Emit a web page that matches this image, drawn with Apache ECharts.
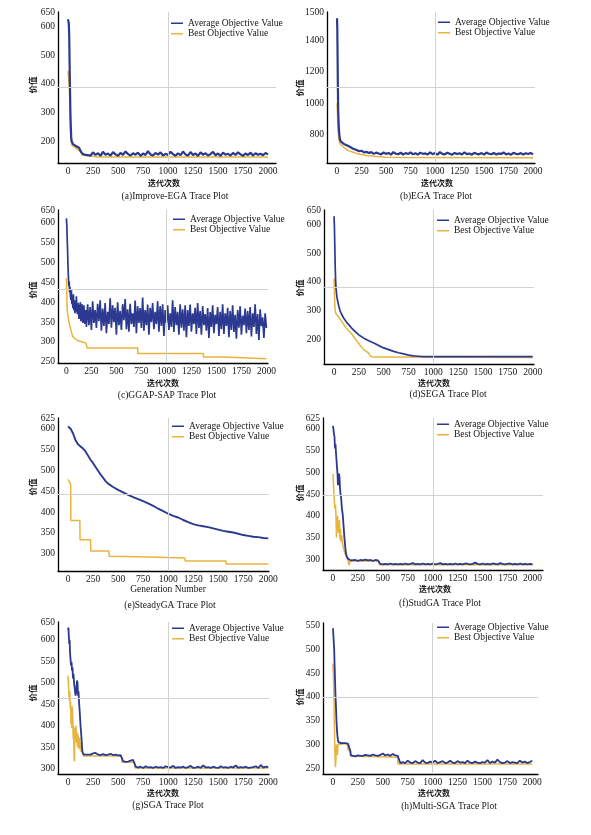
<!DOCTYPE html>
<html>
<head>
<meta charset="utf-8">
<script src="https://cdn.jsdelivr.net/npm/echarts@6/dist/echarts.min.js"></script>
<style>
html,body{margin:0;padding:0;background:#fff;}
#chart{width:591px;height:835px;}
</style>
</head>
<body>
<div id="chart"></div>
<script>
// ---------------- DATA ----------------
const AVG_NAME = 'Average Objective Value';
const BEST_NAME = 'Best Objective Value';
const xTicks = [0, 250, 500, 750, 1000, 1250, 1500, 1750, 2000];
const TAIL_START = 200;   // noisy part starts at generation 200
const TAIL_STEP = 25;     // sampled every 25 generations
const C_TAIL_STEP = 12.5; // panel (c) sampled every 12.5 generations

// (a) Improve-EGA
const aAvgHead = [[0,625],[4,622],[8,610],[12,570],[16,470],[20,380],[24,300],[28,250],[32,215],[36,200],[40,195],[50,190],[60,186],[70,192],[80,183],[90,188],[100,181],[110,177],[120,170],[130,163],[140,158],[150,155],[165,160],[180,152]];
const aAvgTail = [157,150,161,152,158,149,163,153,157,150, 162,154,149,159,152,164,155,150,158,153, 160,149,157,152,165,154,150,159,153,161, 150,156,152,163,155,149,158,151,164,154, 150,162,152,157,149,161,153,158,150,155, 163,151,157,149,160,153,156,150,159,152, 161,154,149,157,152,160,150,158,153,156, 151,159,154];
const aBest = [[0,445],[10,440],[15,380],[20,300],[25,240],[30,205],[40,185],[60,180],[80,176],[100,172],[120,165],[140,152],[160,146],[300,145],[2000,145]];
const aYTicks = [200,300,400,500,600,650];
const aYLabels = ['200','300','400','500','600','650'];

// (b) EGA
const bAvgHead = [[0,1540],[3,1480],[6,1300],[9,1100],[12,960],[16,880],[20,830],[25,795],[30,770],[40,757],[50,750],[60,746],[70,742],[80,744],[90,737],[100,734],[110,730],[120,727],[130,724],[140,720],[150,716],[165,712],[180,706]];
const bAvgTail = [703,696,699,688,692,684,690,679,687,681, 676,688,679,685,674,690,680,677,686,675, 684,678,689,676,683,674,687,679,682,675, 688,677,684,674,690,679,676,686,680,674, 685,678,683,675,689,677,681,674,686,679, 676,684,674,687,680,677,685,675,682,678, 688,676,681,674,686,679,677,684,675,683, 678,685,676];
const bBest = [[0,1000],[4,950],[8,870],[12,820],[16,790],[20,770],[25,755],[35,740],[50,730],[75,718],[100,705],[150,692],[200,682],[250,675],[300,668],[400,662],[500,658],[700,656],[2000,655]];
const bYTicks = [800,1000,1200,1400,1580];
const bYLabels = ['800','1000','1200','1400','1500'];

// (c) GGAP-SAP
const cAvgHead = [[0,611],[4,595],[8,560],[12,530],[16,490],[20,465],[24,440],[28,452],[32,425],[36,438],[40,418],[45,405],[50,430],[55,395],[60,412],[65,385],[70,420],[75,380],[80,405],[85,372],[90,398],[95,376],[100,415],[105,382],[110,370],[115,398],[120,392],[125,358],[130,365],[135,388],[140,400],[145,352],[150,360],[155,395],[160,383],[165,348],[170,355],[175,392],[180,388],[185,345],[190,350],[195,380]];
const cAvgTail = [338,395,342,388,330,402,348,380,335,396, 352,405,328,384,340,398,322,376,345,410, 336,392,350,386,318,400,342,378,330,395, 355,408,332,382,326,396,345,372,338,404, 322,390,348,385,335,412,328,380,342,394, 318,386,350,398,332,376,345,402,326,390, 340,395,315,380,348,392,330,372,338,405, 325,388,342,376,318,395,336,382,328,392, 312,380,340,394,326,372,345,386,320,398, 335,378,318,390,342,370,328,385,310,375, 338,392,322,368,345,388,315,376,332,395, 320,372,340,386,312,378,330,392,325,368, 308,380,336,390,318,366,342,384,322,378, 330,388,314,372,338,395,320,370,305,382, 340,362,310,372,335];
const cBest = [[0,460],[3,430],[6,393],[10,375],[20,360],[30,345],[40,335],[50,325],[63,314],[80,309],[96,306],[120,303],[146,301],[196,297],[206,297],[207,285],[713,285],[714,271],[1370,271],[1371,262],[1580,262],[1581,258],[2000,258]];
const cYTicks = [250,300,350,400,450,500,550,600,632];
const cYLabels = ['250','300','350','400','450','500','550','600','650'];

// (d) SEGA
const dAvg = [[0,628],[4,590],[8,520],[12,450],[16,405],[20,378],[25,360],[30,345],[40,328],[50,312],[60,300],[75,288],[100,272],[125,260],[150,250],[175,240],[200,231],[250,215],[300,204],[350,195],[400,187],[450,178],[500,170],[550,164],[600,158],[650,153],[700,149],[750,145],[800,142],[850,141],[900,140],[1000,139.5],[1500,139.5],[2000,139.5]];
const dBest = [[0,412],[5,410],[8,320],[12,300],[18,290],[25,285],[40,280],[55,275],[70,266],[85,258],[100,250],[120,240],[140,232],[160,226],[180,218],[200,208],[220,198],[240,190],[260,180],[280,172],[300,164],[320,158],[345,153],[360,153],[365,141],[400,138],[2000,136.5]];
const dYTicks = [200,300,400,500,600,650];
const dYLabels = ['200','300','400','500','600','650'];

// (e) SteadyGA
const eAvg = [[0,605],[15,603],[30,598],[50,588],[75,572],[100,562],[125,557],[150,552],[175,545],[200,535],[225,525],[250,517],[275,508],[300,499],[325,490],[350,482],[375,474],[400,468],[450,460],[500,453],[550,447],[600,441],[650,436],[700,431],[750,426],[800,421],[850,415],[900,408],[950,402],[1000,396],[1050,391],[1100,387],[1150,381],[1200,376],[1250,371],[1300,368],[1350,366],[1400,364],[1450,361],[1500,358],[1550,355],[1600,353],[1650,351],[1700,348],[1750,345],[1800,343],[1850,341],[1900,340],[1950,338],[2000,337]];
const eBest = [[0,478],[10,476],[20,470],[27,465],[28,380],[118,380],[120,334],[225,334],[228,307],[408,307],[412,294],[700,293],[1000,291],[1167,290],[1170,283],[1577,283],[1580,276],[2000,276]];
const eYTicks = [300,350,400,450,500,550,600,625];
const eYLabels = ['300','350','400','450','500','550','600','625'];

// (f) StudGA
const fAvgHead = [[0,607],[5,598],[10,588],[15,582],[20,555],[25,565],[30,545],[35,548],[40,512],[45,498],[50,470],[55,488],[60,497],[65,490],[70,465],[75,450],[80,445],[85,430],[90,415],[97,404],[105,380],[114,351],[122,330],[130,313],[140,305],[147,302],[155,300],[165,298],[180,297]];
const fAvgTail = [297,298,296,298,297,299,297,298,296,298, 297,289,288,289,288,290,288,289,288,289, 288,290,288,289,291,288,289,288,290,288, 289,288,290,288,289,291,288,289,288,289, 288,290,288,289,288,290,289,288,289,292, 289,288,290,288,289,288,290,289,288,291, 289,288,289,290,288,289,288,290,288,289, 288,289,288];
const fBest = [[0,496],[5,470],[10,450],[15,430],[20,415],[25,425],[30,400],[35,350],[40,380],[45,400],[50,385],[55,360],[60,375],[65,390],[70,345],[75,370],[80,340],[88,355],[97,335],[105,325],[115,318],[125,310],[135,305],[145,300],[155,292],[162,286],[170,294],[180,296],[200,296],[460,296],[465,287],[2000,287]];
const fYTicks = [300,350,400,450,500,550,600,625];
const fYLabels = ['300','350','400','450','500','550','600','625'];

// (g) SGA
const gAvgHead = [[0,622],[4,628],[8,610],[12,590],[16,600],[20,570],[25,555],[30,540],[35,548],[40,528],[45,535],[50,510],[55,520],[60,500],[65,490],[70,480],[75,470],[80,475],[85,490],[90,505],[95,500],[100,470],[105,480],[110,455],[115,440],[120,420],[125,400],[130,385],[135,370],[140,350],[145,338],[150,334],[160,333],[175,335],[190,333]];
const gAvgTail = [334,333,336,337,333,332,334,332,333,335, 332,333,331,332,318,316,317,319,321,305, 303,305,302,306,303,304,302,305,303,304, 302,306,304,303,307,302,304,303,305,302, 304,307,302,303,305,302,308,303,304,302, 305,303,302,306,303,304,302,305,303,308, 302,304,303,305,302,303,304,306,302,309, 303,305,304];
const gBest = [[0,516],[5,495],[10,470],[14,458],[18,480],[22,440],[26,455],[30,403],[34,430],[38,395],[42,445],[47,420],[52,370],[56,400],[60,335],[63,317],[67,360],[72,395],[76,380],[80,400],[85,360],[90,385],[95,350],[100,380],[105,360],[110,345],[115,372],[120,350],[125,360],[130,340],[140,345],[147,335],[155,330],[200,330],[534,330],[540,315],[665,315],[670,302],[2000,302]];
const gYTicks = [300,350,400,450,500,550,600,641];
const gYLabels = ['300','350','400','450','500','550','600','650'];

// (h) Multi-SGA
const hAvgHead = [[0,544],[4,530],[8,515],[12,500],[16,470],[20,440],[25,405],[30,380],[35,350],[40,330],[45,318],[50,310],[55,305],[64,303],[80,303],[100,303],[120,303],[140,303],[150,302],[160,298],[165,292],[170,290],[175,286],[180,277],[190,276]];
const hAvgTail = [276,275,277,276,276,278,277,276,279,277, 276,278,281,277,279,276,280,277,276,261, 263,261,266,262,261,265,262,261,267,262, 261,264,262,266,261,263,265,261,262,266, 262,261,265,262,263,261,266,262,261,264, 262,261,263,262,267,261,264,262,268,263, 261,262,265,261,263,262,261,266,262,264, 261,263,266];
const hBest = [[0,470],[5,440],[10,390],[15,330],[20,280],[25,252],[30,270],[35,300],[40,290],[45,278],[50,300],[55,302],[140,302],[148,296],[152,288],[158,298],[163,286],[170,292],[176,276],[180,273],[650,273],[652,259],[2000,259]];
const hYTicks = [250,300,350,400,450,500,550];
const hYLabels = ['250','300','350','400','450','500','550'];

const captions = ['(a)Improve-EGA Trace Plot','(b)EGA Trace Plot','(c)GGAP-SAP Trace Plot','(d)SEGA Trace Plot','(e)SteadyGA Trace Plot','(f)StudGA Trace Plot','(g)SGA Trace Plot','(h)Multi-SGA Trace Plot'];
const xNames = ['迭代次数','迭代次数','迭代次数','迭代次数','Generation Number','迭代次数','迭代次数','迭代次数'];
const yName = '价值';

function withTail(head, tail, step) {
  const out = head.slice();
  tail.forEach((v, i) => out.push([TAIL_START + i * step, v]));
  return out;
}

const panels = [
  {avg: withTail(aAvgHead, aAvgTail, TAIL_STEP), best: aBest, yt: aYTicks, yl: aYLabels, xr:[-100,2080], yr:[124,650], hy:387, aw:2.2,
   g:[58,12,218,151], leg:[171,18], cap:[175,196], xn:[164,183], yn:[33,85]},
  {avg: withTail(bAvgHead, bAvgTail, TAIL_STEP), best: bBest, yt: bYTicks, yl: bYLabels, xr:[-102,2020], yr:[621,1580], hy:1100, aw:2.2,
   g:[327,12,208,151], leg:[438,17], cap:[436,196], xn:[437,183], yn:[300,88]},
  {avg: withTail(cAvgHead, cAvgTail, C_TAIL_STEP), best: cBest, yt: cYTicks, yl: cYLabels, xr:[-84,2016], yr:[247,632], hy:432, aw:1.7,
   g:[58,210,210,153], leg:[173,214], cap:[167,395], xn:[163,383], yn:[33,290]},
  {avg: dAvg, best: dBest, yt: dYTicks, yl: dYLabels, xr:[-101,2013], yr:[114,650], hy:380, aw:1.7,
   g:[324,210,210,154], leg:[437,215], cap:[448,394], xn:[434,383], yn:[300,288]},
  {avg: eAvg, best: eBest, yt: eYTicks, yl: eYLabels, xr:[-100,2007], yr:[259,625], hy:442, aw:1.9,
   g:[58,418,211,153], leg:[172,421], cap:[170,605], xn:[168,589], yn:[33,487]},
  {avg: withTail(fAvgHead, fAvgTail, TAIL_STEP), best: fBest, yt: fYTicks, yl: fYLabels, xr:[-100,2104], yr:[275,625], hy:448, aw:1.8,
   g:[323,418,220,152], leg:[437,419], cap:[440,603], xn:[435,589], yn:[300,493]},
  {avg: withTail(gAvgHead, gAvgTail, TAIL_STEP), best: gBest, yt: gYTicks, yl: gYLabels, xr:[-100,2007], yr:[288,641], hy:464, aw:1.8,
   g:[58,622,211,152], leg:[172,623], cap:[168,805], xn:[163,793], yn:[33,693]},
  {avg: withTail(hAvgHead, hAvgTail, TAIL_STEP), best: hBest, yt: hYTicks, yl: hYLabels, xr:[-100,2057], yr:[238,555], hy:400, aw:1.8,
   g:[323,623,215,151], leg:[437,622], cap:[449,806], xn:[434,793], yn:[300,697]}
];

// ---------------- STYLE ----------------
const SERIF = '"Liberation Serif","Times New Roman",serif';
const CJK = '"Noto Sans CJK SC","Noto Sans CJK JP",sans-serif';
const BLUE = '#2b3990';
const GOLD = '#e9b43c';
const TXT = '#151515';

const grid = [], xAxis = [], yAxis = [], series = [], legend = [], graphic = [];

panels.forEach((p, i) => {
  grid.push({left: p.g[0], top: p.g[1], width: p.g[2], height: p.g[3], outerBoundsMode: 'none', containLabel: false});
  xAxis.push({
    type: 'value', gridIndex: i, min: p.xr[0], max: p.xr[1],
    axisLine: {show: true, onZero: false, lineStyle: {color: '#000', width: 1.3}},
    axisTick: {show: false},
    splitLine: {show: false},
    axisLabel: {customValues: xTicks, margin: 3, fontFamily: SERIF, fontSize: 9.5, color: TXT,
      formatter: (v) => String(Math.round(v))}
  });
  yAxis.push({
    type: 'value', gridIndex: i, min: p.yr[0], max: p.yr[1],
    axisLine: {show: true, onZero: false, lineStyle: {color: '#000', width: 1.3}},
    axisTick: {show: false},
    splitLine: {show: false},
    axisLabel: {
      customValues: p.yt, margin: 3, fontFamily: SERIF, fontSize: 9.5, color: TXT,
      formatter: (v) => {
        let best = 0, bd = Infinity;
        p.yt.forEach((t, k) => { const d = Math.abs(t - v); if (d < bd) { bd = d; best = k; } });
        return p.yl[best];
      }
    }
  });
  // crosshair guide lines
  series.push({
    type: 'line', xAxisIndex: i, yAxisIndex: i, data: [], z: 1, silent: true,
    markLine: {
      silent: true, symbol: ['none', 'none'], label: {show: false}, animation: false,
      lineStyle: {color: '#d2d2d2', width: 1, type: 'solid'},
      data: [{xAxis: 1000}, {yAxis: p.hy}]
    }
  });
  series.push({
    name: BEST_NAME, type: 'line', xAxisIndex: i, yAxisIndex: i, data: p.best,
    showSymbol: false, symbol: 'none', color: GOLD, z: 2,
    lineStyle: {color: GOLD, width: 1.5}, emphasis: {disabled: true}
  });
  series.push({
    name: AVG_NAME, type: 'line', xAxisIndex: i, yAxisIndex: i, data: p.avg,
    showSymbol: false, symbol: 'none', color: BLUE, z: 3,
    lineStyle: {color: BLUE, width: p.aw}, emphasis: {disabled: true}
  });
  legend.push({
    left: p.leg[0], top: p.leg[1], orient: 'vertical', padding: 0, itemGap: 0,
    itemWidth: 12, itemHeight: 1.5, icon: 'rect', selectedMode: false,
    textStyle: {fontFamily: SERIF, fontSize: 9.5, color: TXT, lineHeight: 10.5},
    data: [AVG_NAME, BEST_NAME]
  });
  graphic.push({type: 'text', x: p.cap[0], y: p.cap[1], silent: true,
    style: {text: captions[i], fontFamily: SERIF, fontSize: 9.5, fill: TXT, align: 'center', verticalAlign: 'middle'}});
  const isCJK = /[\u4e00-\u9fff]/.test(xNames[i]);
  graphic.push({type: 'text', x: p.xn[0], y: p.xn[1], silent: true,
    style: {text: xNames[i], fontFamily: isCJK ? CJK : SERIF, fontSize: isCJK ? 8 : 9.5, fontWeight: isCJK ? 'bold' : 'normal', fill: TXT, align: 'center', verticalAlign: 'middle'}});
  graphic.push({type: 'text', x: p.yn[0], y: p.yn[1], rotation: Math.PI / 2, silent: true,
    style: {text: yName, fontFamily: CJK, fontSize: 8.5, fontWeight: 'bold', fill: TXT, align: 'center', verticalAlign: 'middle'}});
});

const chart = echarts.init(document.getElementById('chart'), null, {renderer: 'canvas'});
chart.setOption({
  animation: false,
  backgroundColor: '#ffffff',
  grid, xAxis, yAxis, series, legend, graphic
});
</script>
</body>
</html>
